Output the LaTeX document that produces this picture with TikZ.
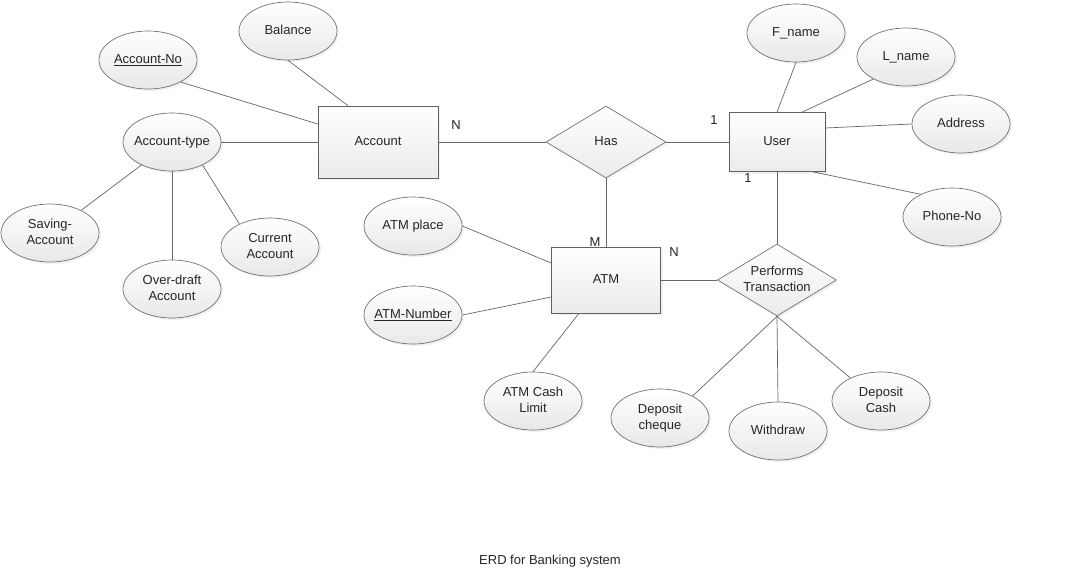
\documentclass[tikz,border=0pt]{standalone}
\usepackage{fontspec}
\setmainfont{Liberation Sans}
\usetikzlibrary{shapes.geometric,shadows}
\newcommand{\lbl}[1]{\makebox[0pt]{\begin{tabular}{@{}c@{}}#1\end{tabular}}}
\begin{document}
\begin{tikzpicture}[x=1pt,y=-1pt,
  every node/.style={font=\fontsize{13}{16}\selectfont, text=black!85},
  shd/.style={drop shadow={shadow xshift=2pt, shadow yshift=-2pt, fill=black!10}},
  attr/.style={ellipse, draw=black!55, line width=0.7pt, top color=white, bottom color=black!9,
    minimum width=98pt, minimum height=58pt, inner sep=0pt, shd},
  ent/.style={rectangle, draw=black!62, line width=0.7pt, top color=white, bottom color=black!8,
    inner sep=0pt, shd},
  rel/.style={diamond, aspect=1.667, draw=black!55, line width=0.7pt, top color=white, bottom color=black!8,
    inner sep=0pt, minimum width=120pt, minimum height=72pt, shd},
  card/.style={inner sep=0pt},
  link/.style={draw=black!60, line width=0.7pt}]
\fill[white] (0,0) rectangle (1080,574);
\useasboundingbox (0,0) rectangle (1080,574);

% entities and relationships
\node[ent, minimum width=120pt, minimum height=72pt] (acc) at (378,142) {\lbl{Account}};
\node[rel] (has) at (606,142) {\lbl{Has}};
\node[ent, minimum width=96pt, minimum height=59pt] (user) at (777,142) {\lbl{User}};
\node[ent, minimum width=109pt, minimum height=66pt] (atm) at (606,280) {\lbl{ATM}};
\node[rel, minimum width=119pt] (perf) at (777,280) {\lbl{Performs\\Transaction}};

% attributes
\node[attr] (balance) at (288,31) {\lbl{Balance}};
\node[attr] (accno) at (148,60) {\lbl{\underline{Account-No}}};
\node[attr] (atype) at (172,142) {\lbl{Account-type}};
\node[attr] (saving) at (50,233) {\lbl{Saving-\\Account}};
\node[attr] (overdraft) at (172,289) {\lbl{Over-draft\\Account}};
\node[attr] (current) at (270,247) {\lbl{Current\\Account}};
\node[attr] (fname) at (796,33) {\lbl{F\_name}};
\node[attr] (lname) at (906,57) {\lbl{L\_name}};
\node[attr] (address) at (961,124) {\lbl{Address}};
\node[attr] (phone) at (952,217) {\lbl{Phone-No}};
\node[attr] (atmplace) at (413,226) {\lbl{ATM place}};
\node[attr] (atmnum) at (413,315) {\lbl{\underline{ATM-Number}}};
\node[attr] (cash) at (533,401) {\lbl{ATM Cash\\Limit}};
\node[attr] (dcheque) at (660,418) {\lbl{Deposit\\cheque}};
\node[attr] (withdraw) at (778,431) {\lbl{Withdraw}};
\node[attr] (dcash) at (881,401) {\lbl{Deposit\\Cash}};

% connectors
\draw[link] (accno.-34) -- ([yshift=18pt]acc.west);
\draw[link] (balance.south) -- ([xshift=-30pt]acc.north);
\draw[link] (atype.east) -- (acc.west);
\draw[link] (atype.-143) -- (saving.36);
\draw[link] (atype.south) -- (overdraft.north);
\draw[link] (atype.-37) -- (current.143);
\draw[link] (acc.east) -- (has.west);
\draw[link] (has.east) -- (user.west);
\draw[link] (has.south) -- (atm.north);
\draw[link] (fname.south) -- (user.north);
\draw[link] (lname.-146) -- ([xshift=25pt]user.north);
\draw[link] (address.west) -- ([yshift=14pt]user.east);
\draw[link] (phone.144) -- ([xshift=36pt]user.south);
\draw[link] (user.south) -- (perf.north);
\draw[link] (atmplace.east) -- ([yshift=17pt]atm.west);
\draw[link] (atmnum.east) -- ([yshift=-17pt]atm.west);
\draw[link] (cash.north) -- ([xshift=-27pt]atm.south);
\draw[link] (atm.east) -- (perf.west);
\draw[link] (perf.south) -- (dcheque.34);
\draw[link] (perf.south) -- (withdraw.north);
\draw[link] (perf.south) -- (dcash.143);

% cardinalities
\node[card] (cN1) at (456,125) {N};
\node[card] (c11) at (714,120) {1};
\node[card] (c12) at (748,178) {1};
\node[card] (cM) at (595,242) {M};
\node[card] (cN2) at (674,252) {N};

% caption
\node (caption) at (550,561) {ERD for Banking system};
\end{tikzpicture}
\end{document}
